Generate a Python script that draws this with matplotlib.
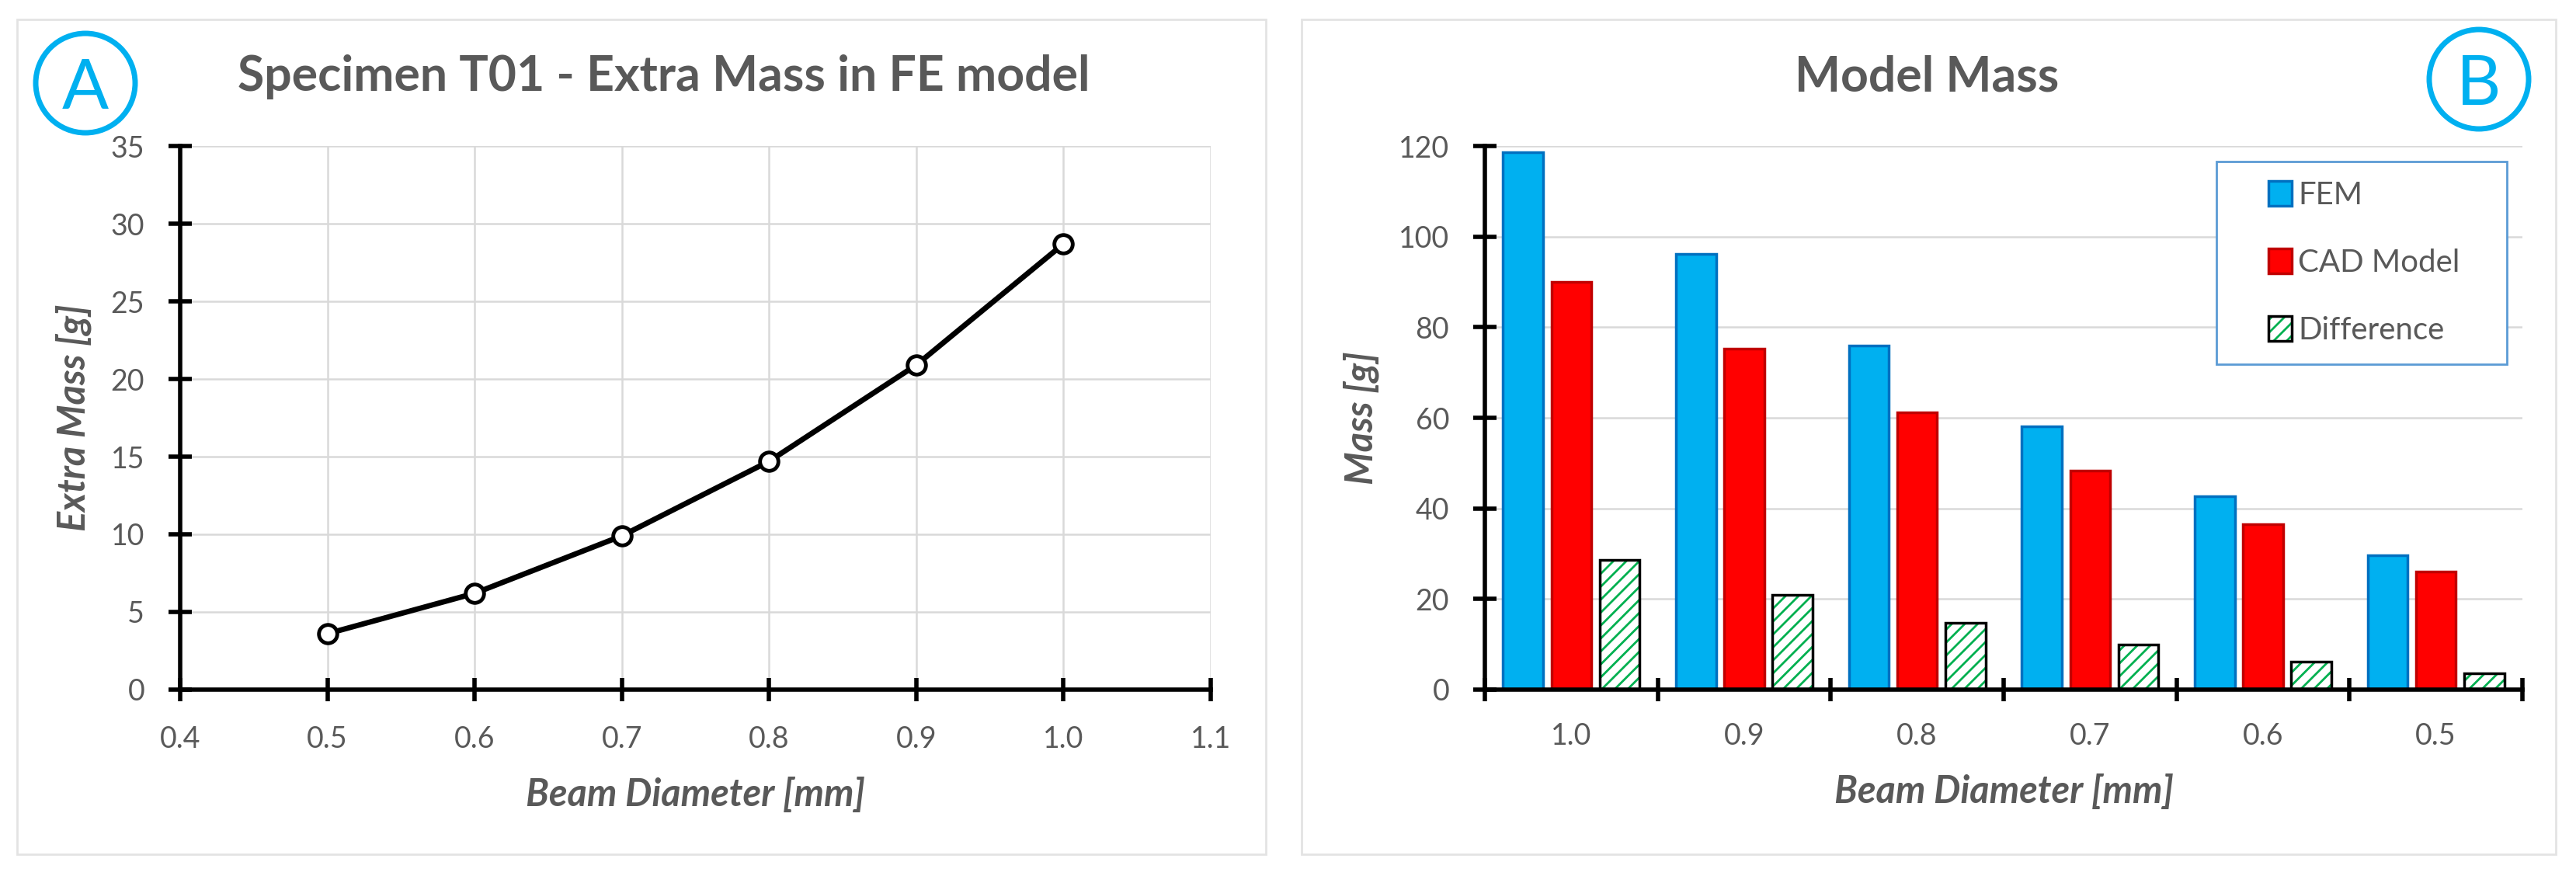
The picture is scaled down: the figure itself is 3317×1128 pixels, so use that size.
import matplotlib
matplotlib.use("Agg")
import matplotlib.pyplot as plt
import numpy as np
from matplotlib.patches import Rectangle, Ellipse, Patch
from matplotlib.legend_handler import HandlerTuple, HandlerPatch

plt.rcParams['font.family'] = ['Lato', 'DejaVu Sans']
plt.rcParams['hatch.linewidth'] = 2.0

# Data
diam_line = [0.5, 0.6, 0.7, 0.8, 0.9, 1.0]
extra_mass = [3.6, 6.2, 9.9, 14.7, 20.9, 28.7]

diam_labels = ["1.0", "0.9", "0.8", "0.7", "0.6", "0.5"]
fem_mass = [118.7, 96.2, 75.9, 58.2, 42.7, 29.6]
cad_mass = [90.0, 75.3, 61.2, 48.3, 36.5, 26.0]
diff_mass = [28.7, 20.9, 14.7, 9.9, 6.2, 3.6]

gray = '#595959'
grid_c = '#d9d9d9'
blue = '#00B0F0'

W, H = 3317, 1128
fig = plt.figure(figsize=(W / 100, H / 100), dpi=100)

# panel frames
for x0, x1 in [(22, 1630), (1676, 3291)]:
    fig.patches.append(Rectangle((x0 / W, 1 - 1100 / H), (x1 - x0) / W, 1075 / H,
                                 transform=fig.transFigure, fill=False,
                                 edgecolor='#e3e3e3', lw=2))

# panel letters
for cx, cy, letter in [(110, 107, 'A'), (3192, 102, 'B')]:
    fig.patches.append(Ellipse((cx / W, 1 - cy / H), 128 / W, 128 / H,
                               transform=fig.transFigure, fill=False,
                               edgecolor=blue, lw=5))
    fig.text(cx / W, 1 - (cy + 33) / H, letter, ha='center', va='baseline',
             fontsize=64, color=blue)


def style_axes(ax):
    for s in ['top', 'right']:
        ax.spines[s].set_visible(False)
    for s in ['left', 'bottom']:
        ax.spines[s].set_linewidth(4)
        ax.spines[s].set_color('black')
    ax.tick_params(axis='both', which='major', direction='inout', length=22,
                   width=4, color='black', labelsize=27, labelcolor=gray)
    ax.set_axisbelow(True)


label_kw = dict(fontsize=35, color=gray, fontweight='bold', style='italic')

# ---- A: line chart
ax1 = fig.add_axes([232 / W, 1 - 888 / H, 1327 / W, 700 / H])
ax1.plot(diam_line, extra_mass, color='black', lw=5, marker='o', markersize=17,
         markerfacecolor='white', markeredgecolor='black', markeredgewidth=3.5,
         zorder=3, clip_on=False)
ax1.set_xlim(0.4, 1.1)
ax1.set_ylim(0, 35)
xt = np.arange(0.4, 1.11, 0.1)
ax1.set_xticks(xt)
ax1.set_xticklabels([f"{v:.1f}" for v in xt])
ax1.set_yticks(range(0, 36, 5))
style_axes(ax1)
ax1.grid(True, color=grid_c, lw=1.8)
ax1.tick_params(axis='x', pad=22)
ax1.tick_params(axis='y', pad=22)
ax1.set_xlabel("Beam Diameter [mm]", labelpad=22, **label_kw)
ax1.set_ylabel("Extra Mass [g]", labelpad=18, **label_kw)
fig.text(855 / W, 1 - 117 / H, "Specimen T01 - Extra Mass in FE model",
         ha='center', va='baseline', fontsize=45, fontweight='bold', color=gray)

# ---- B: bar chart
ax2 = fig.add_axes([1912 / W, 1 - 888 / H, 1336 / W, 700 / H])
x = np.arange(len(diam_labels)) + 0.5
bw = 0.232
off = 0.279
ax2.bar(x - off, fem_mass, bw, color=blue, edgecolor='#0070C0', lw=2.5,
        label='FEM', zorder=2)
ax2.bar(x, cad_mass, bw, color='#FF0000', edgecolor='#C00000', lw=2.5,
        label='CAD Model', zorder=2)
ax2.bar(x + off, diff_mass, bw, color='white', edgecolor='#00B050', lw=0,
        hatch='//', zorder=2)
ax2.bar(x + off, diff_mass, bw, fill=False, edgecolor='black', lw=2.5, zorder=2)
ax2.set_xlim(0, len(diam_labels))
ax2.set_ylim(0, 120)
ax2.set_yticks(range(0, 121, 20))
ax2.set_xticks(range(len(diam_labels) + 1))
ax2.set_xticklabels([])
ax2.set_xticks(x, minor=True)
ax2.set_xticklabels(diam_labels, minor=True)
style_axes(ax2)
ax2.tick_params(axis='x', which='minor', length=0, pad=30, labelsize=27,
                labelcolor=gray)
ax2.tick_params(axis='y', pad=22)
ax2.yaxis.grid(True, color=grid_c, lw=1.8)
ax2.set_xlabel("Beam Diameter [mm]", labelpad=22, **label_kw)
ax2.set_ylabel("Mass [g]", labelpad=18, **label_kw)
fig.text(2481 / W, 1 - 117 / H, "Model Mass", ha='center', va='baseline',
         fontsize=45, fontweight='bold', color=gray)


# legend: small square swatch at the right end of a wider handle box
def swatch(legend, orig_handle, xdescent, ydescent, width, height, fontsize):
    pw, ph = 21.5, 23
    return Rectangle((-xdescent + width - pw, -ydescent + (height - ph) / 2), pw, ph)


h_fem = Patch(facecolor=blue, edgecolor='#0070C0', lw=2.5)
h_cad = Patch(facecolor='#FF0000', edgecolor='#C00000', lw=2.5)
h_diff = (Patch(facecolor='white', edgecolor='#00B050', lw=0, hatch='//'),
          Patch(fill=False, edgecolor='black', lw=2.5))
leg = ax2.legend([h_fem, h_cad, h_diff], ['FEM', 'CAD Model', 'Difference'],
                 handler_map={Patch: HandlerPatch(patch_func=swatch),
                              tuple: HandlerTuple(ndivide=1, pad=0)},
                 loc='upper left', bbox_to_anchor=(0.705, 0.972, 0.28, 0.0),
                 mode='expand', fontsize=29, labelcolor=gray, fancybox=False,
                 edgecolor='#5B9BD5', framealpha=1, handlelength=1.8,
                 handleheight=0.8, handletextpad=0.2, labelspacing=1.25,
                 borderpad=0.62, borderaxespad=0)
leg.get_frame().set_linewidth(2)

fig.savefig("out.png", dpi=100)
